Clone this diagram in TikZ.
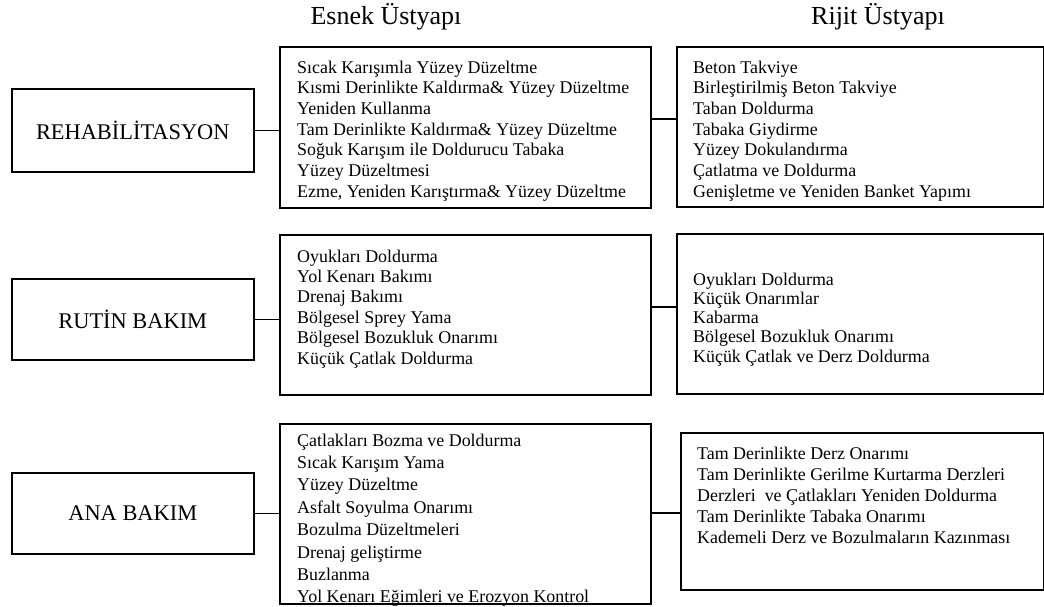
\documentclass[tikz,border=0pt]{standalone}
\usepackage{fontspec}
\setmainfont{Liberation Serif}
\begin{document}
\begin{tikzpicture}[x=1pt,y=-1pt,
  frame/.style={draw, line width=1.6pt, inner sep=0pt, anchor=north west},
  link/.style={line width=1.6pt},
  head/.style={font=\fontsize{26}{30}\selectfont, inner sep=0pt},
  rowlabel/.style={font=\fontsize{22.4}{26}\selectfont, inner sep=0pt},
  item/.style={font=\fontsize{17.9}{21}\selectfont, inner sep=0pt, anchor=base west}]
\useasboundingbox (0,0) rectangle (1044,606);

% column headings
\node[head] (hE) at (386,17) {Esnek Üstyapı};
\node[head] (hR) at (878,17) {Rijit Üstyapı};

% frames: category, flexible pavement, rigid pavement
\node[frame, minimum width=242pt, minimum height=83pt] (r1) at (11,88) {};
\node[frame, minimum width=371pt, minimum height=161pt] (e1) at (279,46) {};
\node[frame, minimum width=367pt, minimum height=160pt] (j1) at (676,46) {};

\node[frame, minimum width=242pt, minimum height=81pt] (r2) at (11,278) {};
\node[frame, minimum width=371pt, minimum height=160pt] (e2) at (279,234) {};
\node[frame, minimum width=367pt, minimum height=160pt] (j2) at (676,233) {};

\node[frame, minimum width=242pt, minimum height=81pt] (r3) at (11,472) {};
\node[frame, minimum width=371pt, minimum height=180pt] (e3) at (279,423) {};
\node[frame, minimum width=363pt, minimum height=157pt] (j3) at (680,432) {};

% category labels
\node[rowlabel] (l1) at (r1) {REHABİLİTASYON};
\node[rowlabel] (l2) at (r2) {RUTİN BAKIM};
\node[rowlabel] (l3) at (r3) {ANA BAKIM};

% connectors
\coordinate (k1) at (0,119);
\coordinate (k2) at (0,307);
\coordinate (k3) at (0,513);
\draw[link] (r1.east) -- (r1.east -| e1.west);
\draw[link] (r2.east) -- (r2.east -| e2.west);
\draw[link] (r3.east) -- (r3.east -| e3.west);
\draw[link] (e1.east |- k1) -- (j1.west |- k1);
\draw[link] (e2.east |- k2) -- (j2.west |- k2);
\draw[link] (e3.east |- k3) -- (j3.west |- k3);

% item lists
\foreach \t [count=\i] in {Sıcak Karışımla Yüzey Düzeltme,
  Kısmi Derinlikte Kaldırma\& Yüzey Düzeltme,
  Yeniden Kullanma,
  Tam Derinlikte Kaldırma\& Yüzey Düzeltme,
  Soğuk Karışım ile Doldurucu Tabaka,
  Yüzey Düzeltmesi,
  {Ezme, Yeniden Karıştırma\& Yüzey Düzeltme}}
  \node[item] (ea\i) at (297,{73+20.7*(\i-1)}) {\t};

\foreach \t [count=\i] in {Beton Takviye,
  Birleştirilmiş Beton Takviye,
  Taban Doldurma,
  Tabaka Giydirme,
  Yüzey Dokulandırma,
  Çatlatma ve Doldurma,
  Genişletme ve Yeniden Banket Yapımı}
  \node[item] (ja\i) at (693,{73+20.7*(\i-1)}) {\t};

\foreach \t [count=\i] in {Oyukları Doldurma,
  Yol Kenarı Bakımı,
  Drenaj Bakımı,
  Bölgesel Sprey Yama,
  Bölgesel Bozukluk Onarımı,
  Küçük Çatlak Doldurma}
  \node[item] (eb\i) at (297,{262+20.4*(\i-1)}) {\t};

\foreach \t [count=\i] in {Oyukları Doldurma,
  Küçük Onarımlar,
  Kabarma,
  Bölgesel Bozukluk Onarımı,
  Küçük Çatlak ve Derz Doldurma}
  \node[item] (jb\i) at (693,{285+19.3*(\i-1)}) {\t};

\foreach \t [count=\i] in {Çatlakları Bozma ve Doldurma,
  Sıcak Karışım Yama,
  Yüzey Düzeltme,
  Asfalt Soyulma Onarımı,
  Bozulma Düzeltmeleri,
  Drenaj geliştirme,
  Buzlanma,
  Yol Kenarı Eğimleri ve Erozyon Kontrol}
  \node[item] (ec\i) at (297,{446+22.4*(\i-1)}) {\t};

\foreach \t [count=\i] in {Tam Derinlikte Derz Onarımı,
  Tam Derinlikte Gerilme Kurtarma Derzleri,
  Derzleri\ \ ve Çatlakları Yeniden Doldurma,
  Tam Derinlikte Tabaka Onarımı,
  Kademeli Derz ve Bozulmaların Kazınması}
  \node[item] (jc\i) at (697,{459+21*(\i-1)}) {\t};
\end{tikzpicture}
\end{document}
